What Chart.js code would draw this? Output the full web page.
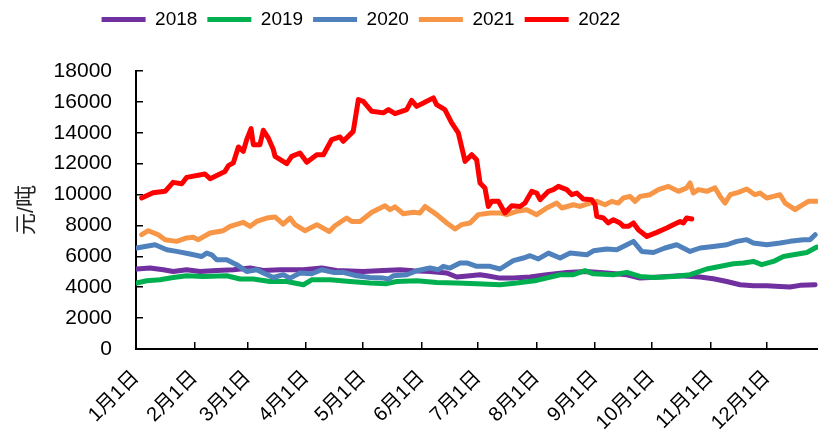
<!DOCTYPE html>
<html>
<head>
<meta charset="utf-8">
<script src="https://cdn.jsdelivr.net/npm/chart.js@4.4.1/dist/chart.umd.min.js"></script>
<style>
  body { margin: 0; background: #fff; }
</style>
</head>
<body>
<canvas id="myChart" width="818" height="439"></canvas>
<script>
// day of year -> price
let years = ["2018", "2019", "2020", "2021", "2022"];
let colors = ["#7030A0", "#00B050", "#4F81BD", "#F79646", "#FF0000"];

let monthStarts = [0, 31, 59, 90, 120, 151, 181, 212, 243, 273, 304, 334];
let monthLabels = ["1月1日", "2月1日", "3月1日", "4月1日", "5月1日", "6月1日",
    "7月1日", "8月1日", "9月1日", "10月1日", "11月1日", "12月1日"];

let days2018 = [0.4,7.4,14.5,19.7,26.8,33.9,42.7,51.5,60.4,67.4,76.2,88.6,98.3,106.2,120.3,130.9,139.8,146.8,155.6,164.5,169.8,176.8,182.1,185.7,192.7,199.7,208.6,217.4,228,238.6,249.2,259.8,266.8,277.4,288,298.6,305.6,312.7,319.8,326.8,333.9,340.9,346.2,351.5,359.5];
let price2018 = [5180,5240,5130,5020,5130,5020,5090,5130,5240,5090,5130,5130,5240,5090,5020,5090,5130,5070,5020,4920,4660,4740,4810,4740,4590,4590,4660,4810,4960,5020,4920,4810,4590,4660,4740,4660,4550,4370,4160,4100,4100,4050,4010,4120,4160];

let days2019 = [0.4,5.7,12.7,19.7,26.8,35.6,48,55.1,62.1,70.9,79.8,88.6,93,102.7,113.3,123.9,132.7,138,148.6,159.2,169.8,180.4,192.7,201.5,212.1,224.5,231.5,237.7,242.1,252.7,259.8,266.8,273.9,284.4,293.3,302.1,310.9,316.2,321.5,326.8,331.2,337.4,342.7,348,355.1,360.4];
let price2019 = [4270,4420,4480,4630,4740,4700,4740,4530,4530,4370,4370,4160,4480,4480,4370,4270,4230,4370,4420,4310,4270,4230,4160,4270,4440,4810,4810,5070,4870,4810,4960,4700,4630,4700,4810,5180,5390,5520,5570,5670,5460,5670,5990,6100,6250,6600];

let days2020 = [0.4,4.8,10.1,16.3,21.5,28.6,34.8,37.4,40.1,42.7,48,53.3,58.6,63.9,67.4,72.7,78,81.5,86.8,93,98.3,104.4,109.7,116.8,123.9,130.9,133.6,136.2,143.3,148.6,155.6,160,162.7,166.2,171.5,175.1,180.4,187.4,192.7,199.7,205,208.6,213,218.3,224.5,229.8,238.6,242.1,249.2,254.5,259.8,263.3,267.7,273.9,280,286.2,293.3,298.6,305.6,312.7,318,323.3,326.8,333.9,340.9,346.2,353.3,356.8,359.5];
let price2020 = [6540,6640,6750,6430,6320,6150,5990,6210,6100,5780,5780,5460,5020,5130,4920,4630,4810,4590,4920,4870,5130,4960,4960,4740,4630,4590,4530,4740,4810,5070,5240,5130,5350,5240,5570,5570,5350,5350,5180,5720,5890,6040,5830,6210,5890,6210,6100,6360,6470,6430,6750,6970,6320,6250,6540,6750,6320,6540,6640,6750,6970,7080,6860,6750,6860,6970,7080,7080,7400];

let days2021 = [3,6.5,11.8,15.4,21.5,26.8,30.3,33,39.2,46.2,49.8,56.8,60.4,63.9,69.2,73.6,77.9,81.5,84.2,89.4,95.7,102.3,105.3,111.5,114.2,118.6,124.8,131.8,134.5,137.1,141.5,146.8,150.3,153,159.2,164.5,168.9,172.4,176.8,181.2,187.4,192.7,196.2,201.5,206.8,212.1,217.4,222.7,225.4,231.5,235,240.3,243.9,248.3,251.8,255.3,258,261.5,264.2,266.8,272.1,276.5,281.8,287.1,291.5,293.3,295,297.7,302.1,306.5,309.2,311.8,314.5,318.8,323.3,327.6,330.3,333.9,337.4,340.9,343.6,348.9,351.5,355.9,360.3];
let price2021 = [7400,7660,7400,7080,6970,7190,7230,7080,7510,7660,7940,8200,7940,8260,8480,8550,8090,8480,8050,7660,8050,7610,7980,8480,8260,8260,8850,9280,9020,9200,8760,8850,8810,9230,8700,8160,7770,8050,8160,8700,8810,8810,8700,8910,9020,8700,9130,9450,9130,9340,9230,9450,9560,9340,9560,9450,9780,9880,9560,9880,9990,10320,10530,10210,10430,10750,10100,10320,10210,10430,9880,9450,9990,10140,10360,9990,10100,9780,9880,9990,9450,9020,9230,9560,9560];

let days2022 = [3,9,15.4,19.6,24.2,26.8,36.5,39.2,47.1,48.9,51.5,54.2,56.8,58.6,60.9,62.1,65.6,67.4,70,72.7,73.6,79.8,82.4,86.8,90.4,95.7,99.2,103.6,108,109.7,115,117.7,120.3,124.8,130.9,133.6,137.1,143.3,145.9,148.6,152.1,157.4,159.1,163.5,167.1,170.6,174.2,177.7,180.3,182.1,184.7,186.5,188.3,191.8,195.3,198.9,203.3,205.9,209.5,212.1,213.9,218.3,220.9,223.6,228,230.7,233.3,236.8,241.2,243,243.9,247.4,250,252.7,256.2,258,260.6,263.3,265.9,270.4,275.7,280.9,284.4,288,289.7,291.5,294.2];
let price2022 = [9780,10120,10210,10790,10700,11110,11330,11030,11500,11870,12050,13080,12800,13560,14270,13230,13230,14160,13670,12910,12470,12000,12470,12690,12090,12580,12580,13560,13730,13450,14090,16150,16040,15390,15290,15500,15240,15500,16100,15710,15930,16260,15820,15500,14640,13990,12150,12580,12260,10750,10430,9230,9560,9560,8810,9280,9230,9450,10210,10100,9670,10210,10320,10530,10320,9990,10100,9710,9670,9340,8590,8480,8160,8370,8160,7940,7940,8160,7720,7290,7550,7830,8050,8260,8160,8480,8420];

let allDays = [days2018, days2019, days2020, days2021, days2022];
let allPrices = [price2018, price2019, price2020, price2021, price2022];

Chart.defaults.font.family = "'Liberation Sans', 'Noto Sans CJK SC', sans-serif";
Chart.defaults.color = "#000";

// legend: leave room under it and move it left like the original
let legendPlace = {
    id: "legendPlace",
    afterInit(chart) {
        let fit = chart.legend.fit;
        chart.legend.fit = function () {
            fit.bind(this)();
            this.height = 71;
        };
    },
    afterLayout(chart) {
        chart.legend.left -= 48;
        chart.legend.right -= 48;
    }
};

let datasets = years.map((year, i) => ({
    label: year,
    data: allDays[i].map((d, j) => ({ x: d, y: allPrices[i][j] })),
    borderColor: colors[i],
    backgroundColor: colors[i],
    borderWidth: 5,
    borderCapStyle: "round",
    borderJoinStyle: "round",
    pointRadius: 0,
    tension: 0,
    order: years.length - i,
}));

let ctx = document.getElementById('myChart').getContext('2d');
let myChart = new Chart(ctx, {
    type: 'line',
    data: { datasets: datasets },
    options: {
        responsive: false,
        animation: false,
        devicePixelRatio: 1,
        layout: { padding: 0 },
        plugins: {
            legend: {
                labels: {
                    usePointStyle: true,
                    pointStyle: 'line',
                    pointStyleWidth: 44,
                    padding: 10,
                    font: { size: 19 },
                    color: '#000',
                    sort: (a, b) => a.datasetIndex - b.datasetIndex,
                }
            },
            tooltip: { enabled: false }
        },
        scales: {
            x: {
                type: 'linear',
                min: 0,
                max: 361,
                afterBuildTicks: (scale) => {
                    scale.ticks = monthStarts.map(v => ({ value: v }));
                },
                afterFit: (scale) => { scale.height = 90; },
                ticks: {
                    autoSkip: false,
                    minRotation: 45,
                    maxRotation: 45,
                    padding: 24,
                    font: { size: 20 },
                    color: '#000',
                    callback: (value) => monthLabels[monthStarts.indexOf(value)],
                },
                grid: {
                    drawOnChartArea: false,
                    tickLength: -7,
                    color: '#000',
                    lineWidth: 1.5,
                },
                border: { color: '#000', width: 2 },
            },
            y: {
                min: 0,
                max: 18000,
                afterFit: (scale) => { scale.width = 136; },
                ticks: {
                    stepSize: 2000,
                    padding: 31,
                    font: { size: 21 },
                    color: '#000',
                    callback: (value) => String(value),
                },
                grid: {
                    drawOnChartArea: false,
                    tickLength: -7,
                    color: '#000',
                    lineWidth: 1.5,
                },
                border: { color: '#000', width: 2 },
                title: {
                    display: true,
                    text: '元/吨',
                    font: { size: 22 },
                    color: '#222',
                    padding: { top: 14, bottom: 0 },
                },
            }
        }
    },
    plugins: [legendPlace]
});
</script>
</body>
</html>
